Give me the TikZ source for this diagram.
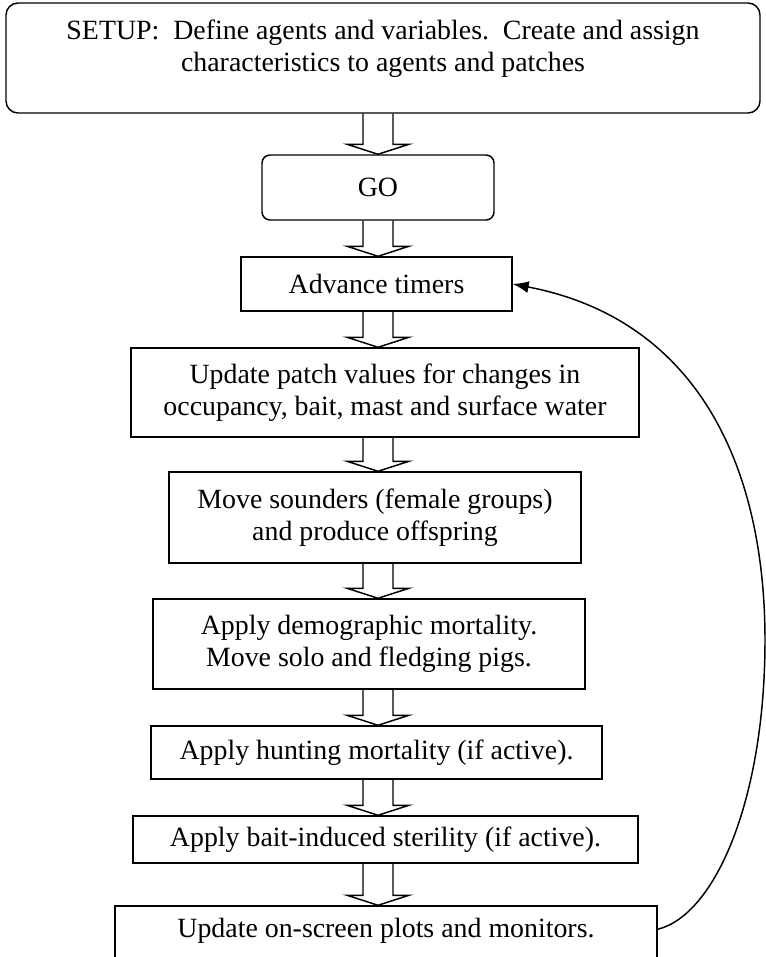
\documentclass[tikz,border=0pt]{standalone}
\usepackage{fontspec}
\setmainfont{Liberation Serif}
\usetikzlibrary{calc, arrows.meta}

% open block arrow between two boxes, on the common spine
\newcommand{\hollowarrow}[2]{%
  \draw[openarrow] let \p1=(#1.south -| spine), \p2=(#2.north -| spine) in
    (\x1-11.25pt,\y1) -- (\x1-11.25pt,\y2+7.5pt) -- (\x1-23.25pt,\y2+7.5pt)
    -- (\x1,\y2) -- (\x1+23.25pt,\y2+7.5pt) -- (\x1+11.25pt,\y2+7.5pt)
    -- (\x1+11.25pt,\y1);}

\begin{document}
\begin{tikzpicture}[x=0.75pt, y=-0.75pt, line width=1.1pt,
    every node/.style={font=\fontsize{20.9pt}{24pt}\selectfont},
    stepbox/.style={draw, align=center, inner sep=2pt},
    roundbox/.style={stepbox, rounded corners=9pt},
    openarrow/.style={line join=miter},
    feedback/.style={-{Latex[length=12pt, width=9pt]}}]
    \useasboundingbox (0,0) rectangle (766,957);
    \clip (0,0) rectangle (766,957);
    \coordinate (spine) at (378,0);

    \node[roundbox, minimum width=565.5pt, minimum height=82.5pt, inner sep=0pt] (setup) at (383,58)
        {\parbox[c][56.5pt][t]{540pt}{\centering SETUP:\ \ Define agents and variables.\ \ Create and assign\\ characteristics to agents and patches}};
    \node[roundbox, rounded corners=6pt, minimum width=174pt, minimum height=48.75pt] (go) at (378,187.5) {GO};
    \node[stepbox, minimum width=203.25pt, minimum height=40.5pt] (timers) at (376.5,284) {Advance timers};
    \node[stepbox, minimum width=381pt, minimum height=66.75pt] (patches) at (385,392.5)
        {Update patch values for changes in\\ occupancy, bait, mast and surface water};
    \node[stepbox, minimum width=309pt, minimum height=68.25pt] (sounders) at (375,517.5)
        {Move sounders (female groups)\\ and produce offspring};
    \node[stepbox, minimum width=324pt, minimum height=67.5pt] (mortality) at (369,644)
        {Apply demographic mortality.\\ Move solo and fledging pigs.};
    \node[stepbox, minimum width=338.25pt, minimum height=39.75pt] (hunting) at (376.5,752.5)
        {Apply hunting mortality (if active).};
    \node[stepbox, minimum width=378.75pt, minimum height=35.25pt] (sterility) at (385.5,839.5)
        {Apply bait-induced sterility (if active).};
    \node[stepbox, minimum width=406.5pt, minimum height=49.5pt, inner sep=0pt] (plots) at (386,939)
        {\parbox[c][31pt][t]{400pt}{\centering Update on-screen plots and monitors.}};

    \foreach \a/\b in {setup/go, go/timers, timers/patches, patches/sounders,
        sounders/mortality, mortality/hunting, hunting/sterility, sterility/plots}
        \hollowarrow{\a}{\b};

    % back to the timers
    \draw[feedback] ([yshift=-18pt]plots.north east) .. controls (715,915) and (765,800) .. (765,640)
        .. controls (765,470) and (700,320) .. (timers.east);
\end{tikzpicture}
\end{document}
